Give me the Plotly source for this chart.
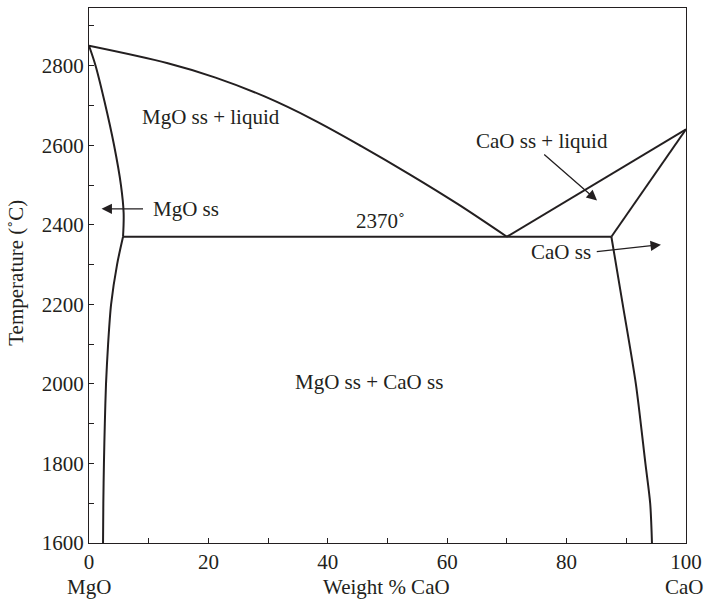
import plotly.graph_objects as go

# MgO–CaO phase diagram: boundaries as (wt % CaO, temperature °C)
mgo_liquidus_x = [0, 13.2, 21.2, 29.5, 37.6, 45.6, 53.7, 61.8, 70]
mgo_liquidus_t = [2850, 2806, 2770, 2722, 2664, 2598, 2527, 2452, 2370]

mgo_solidus_x = [0, 1.1, 2.6, 4.2, 5.35, 5.8, 5.7]
mgo_solidus_t = [2850, 2800, 2710, 2600, 2500, 2430, 2370]

mgo_solvus_x = [5.7, 4.7, 3.7, 3.2, 2.85, 2.65, 2.5, 2.4, 2.35]
mgo_solvus_t = [2370, 2300, 2200, 2100, 2000, 1900, 1800, 1700, 1600]

cao_liquidus_x = [70, 100]
cao_liquidus_t = [2370, 2640]

cao_solidus_x = [100, 87.5]
cao_solidus_t = [2640, 2370]

cao_solvus_x = [87.5, 89.4, 91.6, 93.2, 94.0, 94.3]
cao_solvus_t = [2370, 2200, 2000, 1800, 1700, 1600]

eutectic_x = [5.7, 87.5]
eutectic_t = [2370, 2370]

x_ticks = [0, 20, 40, 60, 80, 100]
y_ticks = [1600, 1800, 2000, 2200, 2400, 2600, 2800]

FONT = "Liberation Serif"
INK = "#231f20"

fig = go.Figure()

curves = [
    (mgo_liquidus_x, mgo_liquidus_t, "spline", 1.0),
    (mgo_solidus_x, mgo_solidus_t, "spline", 1.0),
    (mgo_solvus_x, mgo_solvus_t, "spline", 0.8),
    (cao_liquidus_x, cao_liquidus_t, "linear", 0),
    (cao_solidus_x, cao_solidus_t, "linear", 0),
    (cao_solvus_x, cao_solvus_t, "spline", 0.8),
    (eutectic_x, eutectic_t, "linear", 0),
]
for xs, ts, shape, smooth in curves:
    line = dict(color=INK, width=2, shape=shape)
    if shape == "spline":
        line["smoothing"] = smooth
    fig.add_trace(go.Scatter(
        x=xs, y=ts, mode="lines", line=line,
        hoverinfo="skip", showlegend=False,
    ))

text_font = dict(family=FONT, size=21, color=INK)

# Region labels
labels = [
    ("MgO ss + liquid", 20.5, 2672),
    ("CaO ss + liquid", 75.8, 2611),
    ("2370˚", 48.9, 2410),
    ("MgO ss + CaO ss", 46.9, 2006),
]
annotations = []
for txt, x, y in labels:
    annotations.append(dict(x=x, y=y, xref="x", yref="y", text=txt,
                            showarrow=False, font=text_font,
                            xanchor="center", yanchor="middle"))

annotations.append(dict(x=10.4, y=2440, xref="x", yref="y", text="MgO ss",
                        showarrow=False, font=text_font,
                        xanchor="left", yanchor="middle"))
annotations.append(dict(x=79.0, y=2331, xref="x", yref="y", text="CaO ss",
                        showarrow=False, font=text_font,
                        xanchor="center", yanchor="middle"))

# Pointer arrows (head at x, y; tail at ax, ay)
arrows = [
    (2.1, 2440, 9.3, 2440),
    (85.1, 2461, 76.0, 2580),
    (95.8, 2350, 84.8, 2332),
]
for x, y, ax, ay in arrows:
    annotations.append(dict(x=x, y=y, ax=ax, ay=ay, xref="x", yref="y",
                            axref="x", ayref="y", text="", showarrow=True,
                            arrowhead=2, arrowsize=1.6, arrowwidth=1.3,
                            arrowcolor=INK, standoff=0, startstandoff=0))

# Axis titles and end-member labels
bottom_y = -0.083
annotations += [
    dict(x=-0.1235, y=0.5056, xref="paper", yref="paper",
         text="Temperature (˚C)", textangle=-90, showarrow=False,
         font=text_font, xanchor="center", yanchor="middle"),
    dict(x=0.0, y=bottom_y, xref="paper", yref="paper", text="MgO",
         showarrow=False, font=text_font, xanchor="center", yanchor="middle"),
    dict(x=0.499, y=bottom_y, xref="paper", yref="paper", text="Weight % CaO",
         showarrow=False, font=text_font, xanchor="center", yanchor="middle"),
    dict(x=0.9975, y=bottom_y, xref="paper", yref="paper", text="CaO",
         showarrow=False, font=text_font, xanchor="center", yanchor="middle"),
]

axis_common = dict(
    showgrid=False, zeroline=False, showline=True, mirror=True,
    linecolor=INK, linewidth=1.3, ticks="inside", ticklen=5,
    tickwidth=1.2, tickcolor=INK,
    tickfont=dict(family=FONT, size=21, color=INK),
)

fig.update_layout(
    width=709, height=600,
    margin=dict(l=89, r=21, t=7, b=57),
    paper_bgcolor="white", plot_bgcolor="white",
    xaxis=dict(range=[0, 100], tickvals=x_ticks,
               minor=dict(ticks="inside", dtick=10, tick0=0, ticklen=5,
                          tickwidth=1.2, tickcolor=INK),
               **axis_common),
    yaxis=dict(range=[1600, 2945], tickvals=y_ticks,
               minor=dict(ticks="inside", dtick=100, tick0=1600, ticklen=5,
                          tickwidth=1.2, tickcolor=INK),
               **axis_common),
    annotations=annotations,
)

fig.write_html("out.html")
